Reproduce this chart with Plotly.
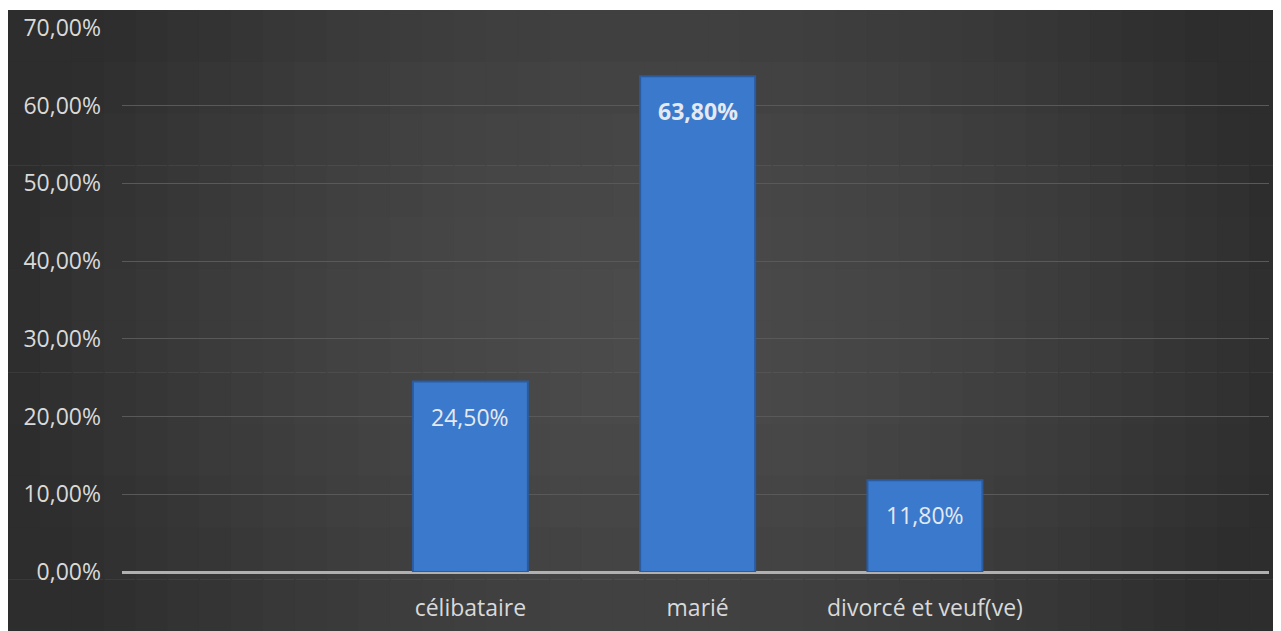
import math
import plotly.graph_objects as go

categories = ["célibataire", "marié", "divorcé et veuf(ve)"]
values = [0.245, 0.638, 0.118]
bold_labels = [False, True, False]
y_ticks = [0, 0.1, 0.2, 0.3, 0.4, 0.5, 0.6, 0.7]

# page body has an 8px margin, so the figure is sized to fit the window
W, H = 1273, 623
L, R, T, B = 114, 12, 20, 59
pw = W - L - R
ph = H - T - B

def px_x(p):
    return (p - L) / pw

def px_y(p):
    return (H - B - p) / ph

# radial-ish dark gradient background (styling)
shapes = []
nx, ny = 40, 12
x0p, x1p, y0p, y1p = 0, W, 2, H
for i in range(nx):
    for j in range(ny):
        xa = x0p + (x1p - x0p) * i / nx
        xb = x0p + (x1p - x0p) * (i + 1) / nx
        ya = y0p + (y1p - y0p) * j / ny
        yb = y0p + (y1p - y0p) * (j + 1) / ny
        cx = ((xa + xb) / 2 - 642) / 640
        cy = ((ya + yb) / 2 - 322) / 330
        d = min(1.0, math.sqrt(cx * cx + 0.35 * cy * cy))
        v = int(round(75 - 30 * d ** 1.6))
        col = f"rgb({v},{v},{v})"
        shapes.append(dict(type="rect", xref="paper", yref="paper",
                           x0=px_x(xa), x1=px_x(xb) + 0.001,
                           y0=px_y(yb) - 0.001, y1=px_y(ya),
                           fillcolor=col, line=dict(width=0), layer="below"))

fig = go.Figure()
fig.add_trace(go.Bar(
    x=categories, y=values, width=0.506,
    marker=dict(color="#3b79cc", line=dict(color="#2a5c9f", width=2)),
    hoverinfo="skip",
))

def fmt(v):
    return f"{v*100:.2f}%".replace(".", ",")

for c, v, b in zip(categories, values, bold_labels):
    t = fmt(v)
    if b:
        t = f"<b>{t}</b>"
    fig.add_annotation(x=c, y=v, xref="x", yref="y", text=t, showarrow=False,
                       yanchor="middle", yshift=-35,
                       font=dict(family="Open Sans", size=23, color="#e4e9f0"))

fig.update_layout(
    width=W, height=H, autosize=False,
    margin=dict(l=L, r=R, t=T, b=B, pad=0, autoexpand=False),
    paper_bgcolor="white", plot_bgcolor="rgba(0,0,0,0)",
    separators=", ",
    shapes=shapes,
    showlegend=False,
    font=dict(family="Open Sans", size=23, color="#d9d9d9"),
    xaxis=dict(range=[-1.533, 3.514], showgrid=False, showline=False,
               zeroline=False, ticks="", tickfont=dict(size=23, color="#d9d9d9"),
               ticklabelstandoff=20, fixedrange=True, automargin=False),
    yaxis=dict(range=[0, 0.7], tickvals=y_ticks, tickformat=".2%",
               showgrid=True, gridcolor="#595959", gridwidth=1,
               zeroline=True, zerolinecolor="#b0b0b0", zerolinewidth=3,
               showline=False, ticks="", tickfont=dict(size=23, color="#d9d9d9"),
               ticklabelstandoff=20, fixedrange=True, automargin=False),
)

fig.write_html("out.html")
